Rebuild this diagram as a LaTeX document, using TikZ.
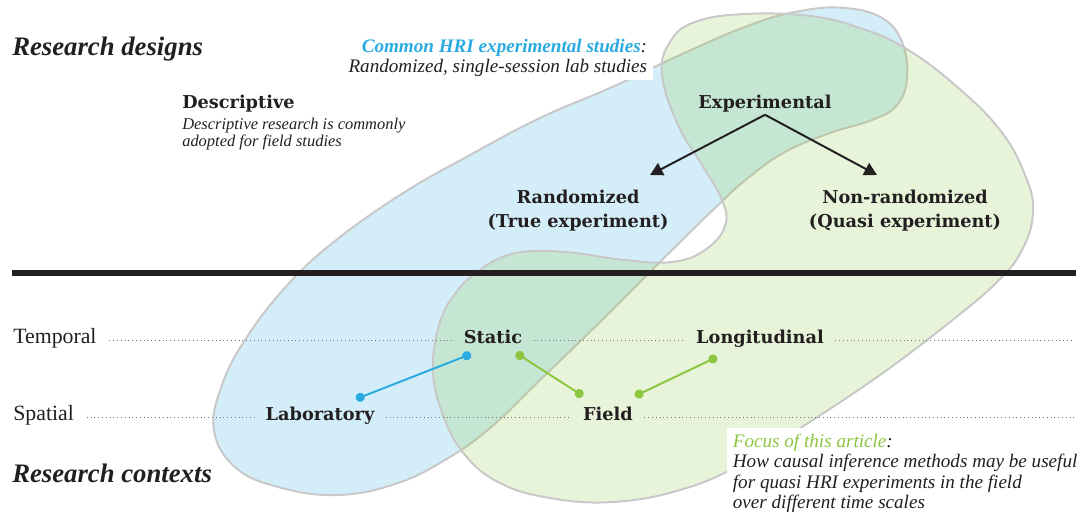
\documentclass[tikz,border=0pt]{standalone}
\usepackage{fontspec}
\setmainfont{Liberation Serif}
\newfontfamily\labelfont{DejaVu Serif}
\usepackage{xcolor}
\usetikzlibrary{arrows.meta}

\definecolor{hriblue}{RGB}{41,171,226}
\definecolor{hrigreen}{RGB}{141,198,63}
\definecolor{inkdark}{RGB}{35,31,32}
\definecolor{blobline}{RGB}{200,200,200}

\begin{document}
\begin{tikzpicture}[
    x=0.025cm, y=-0.025cm,
    heading/.style={font=\fontsize{19}{22}\selectfont\bfseries\itshape, text=inkdark, anchor=base west, inner sep=0pt},
    label/.style={font=\labelfont\fontsize{12.6}{17}\selectfont\bfseries, text=inkdark, align=center, inner xsep=5pt, inner ysep=2pt},
    rowlabel/.style={label, text height=0.7em, text depth=0.2em, inner xsep=4pt},
    axis/.style={font=\fontsize{15.5}{18}\selectfont, text=inkdark, anchor=west, text height=0.7em, text depth=0.2em, inner xsep=5pt},
    note/.style={font=\fontsize{11.7}{12.2}\selectfont\itshape, text=inkdark, align=left, anchor=north west, inner sep=0pt},
    callout/.style={font=\fontsize{13.6}{14.6}\selectfont\itshape, text=inkdark, fill=white, inner xsep=4pt, inner ysep=2pt},
    blob/.style={draw=blobline, line width=1.4pt, fill opacity=0.2},
    arrow/.style={-{Triangle[length=9pt, width=9.5pt]}, line width=1.4pt, inkdark},
    dotline/.style={dotted, line width=0.7pt, black!55, shorten <=4pt, shorten >=4pt},
    link/.style={{Circle[length=6.5pt]}-{Circle[length=6.5pt]}, line width=1.4pt},
    rule/.style={line width=3.6pt, inkdark}
]
\useasboundingbox (0,0) rectangle (1081,513);

% Design and context regions
\draw[blob, fill=hriblue] plot[smooth cycle, tension=0.7] coordinates {
    (214,430) (222,385) (245,340) (283,290) (330,245) (400,195) (470,155)
    (540,118) (610,88) (680,55) (750,25) (800,11) (845,8) (882,18) (902,42)
    (907,78) (897,105) (872,120) (830,133) (785,152) (748,178) (715,208)
    (660,262) (600,322) (540,380) (490,428) (445,460) (395,484) (337,495)
    (278,487) (235,467)};
\draw[blob, fill=hrigreen] plot[smooth cycle, tension=0.7] coordinates {
    (662,75) (670,42) (695,22) (745,14) (810,16) (860,28) (905,48) (955,85)
    (1000,130) (1025,175) (1033,212) (1022,250) (997,282) (950,322) (880,375)
    (805,425) (740,465) (680,490) (613,502) (550,498) (500,483) (465,455)
    (443,415) (433,370) (440,322) (458,290) (480,270) (505,256) (535,251)
    (575,253) (625,260) (672,262) (705,250) (725,226) (722,200) (702,165)
    (678,125)};

% Research designs
\node[heading] (designs) at (12,55) {Research designs};
\node[callout, align=right, anchor=south east] (common) at (653,80)
    {\textcolor{hriblue}{\bfseries Common HRI experimental studies}:\\Randomized, single-session lab studies};
\node[label, anchor=base west, inner xsep=0pt] (descr) at (182,108) {Descriptive};
\node[note] (descrnote) at (182,118) {Descriptive research is commonly\\adopted for field studies};
\node[label, anchor=base] (exper) at (765,108) {Experimental};
\node[label, anchor=north] (rand) at (578,187) {Randomized\\(True experiment)};
\node[label, anchor=north] (nonrand) at (905,187) {Non-randomized\\(Quasi experiment)};

\draw[arrow] (exper.south) -- ([shift={(72,-12)}]rand.north);
\draw[arrow] (exper.south) -- ([shift={(-28,-12)}]nonrand.north);

% Divider
\coordinate (ruleL) at (12,273);
\coordinate (ruleR) at (1076,273);
\draw[rule] (ruleL) -- (ruleR);

% Research contexts
\node[axis] (temporal) at (6,340) {Temporal};
\node[rowlabel] (static) at (493,340) {Static};
\node[rowlabel] (longit) at (760,340) {Longitudinal};
\coordinate (tempend) at (1080,340);

\node[axis] (spatial) at (6,417) {Spatial};
\node[rowlabel] (lab) at (320,417) {Laboratory};
\node[rowlabel] (field) at (608,417) {Field};
\coordinate (spatend) at (1080,417);

\draw[dotline] (temporal) -- (static);
\draw[dotline] (static) -- (longit);
\draw[dotline] (longit) -- (tempend);
\draw[dotline] (spatial) -- (lab);
\draw[dotline] (lab) -- (field);
\draw[dotline] (field) -- (spatend);

\draw[link, hriblue] ([shift={(36,-18)}]lab.center) -- ([shift={(-22,14)}]static.center);
\draw[link, hrigreen] ([shift={(23,13)}]static.center) -- ([shift={(-25,-21)}]field.center);
\draw[link, hrigreen] ([shift={(27,-21)}]field.center) -- ([shift={(-43,17)}]longit.center);

\node[heading] (contexts) at (12,482) {Research contexts};
\node[callout, align=left, anchor=north west, inner sep=4pt] (focus) at (727,428)
    {\textcolor{hrigreen}{Focus of this article}:\\How causal inference methods may be useful\\for quasi HRI experiments in the field\\over different time scales};

\end{tikzpicture}
\end{document}
